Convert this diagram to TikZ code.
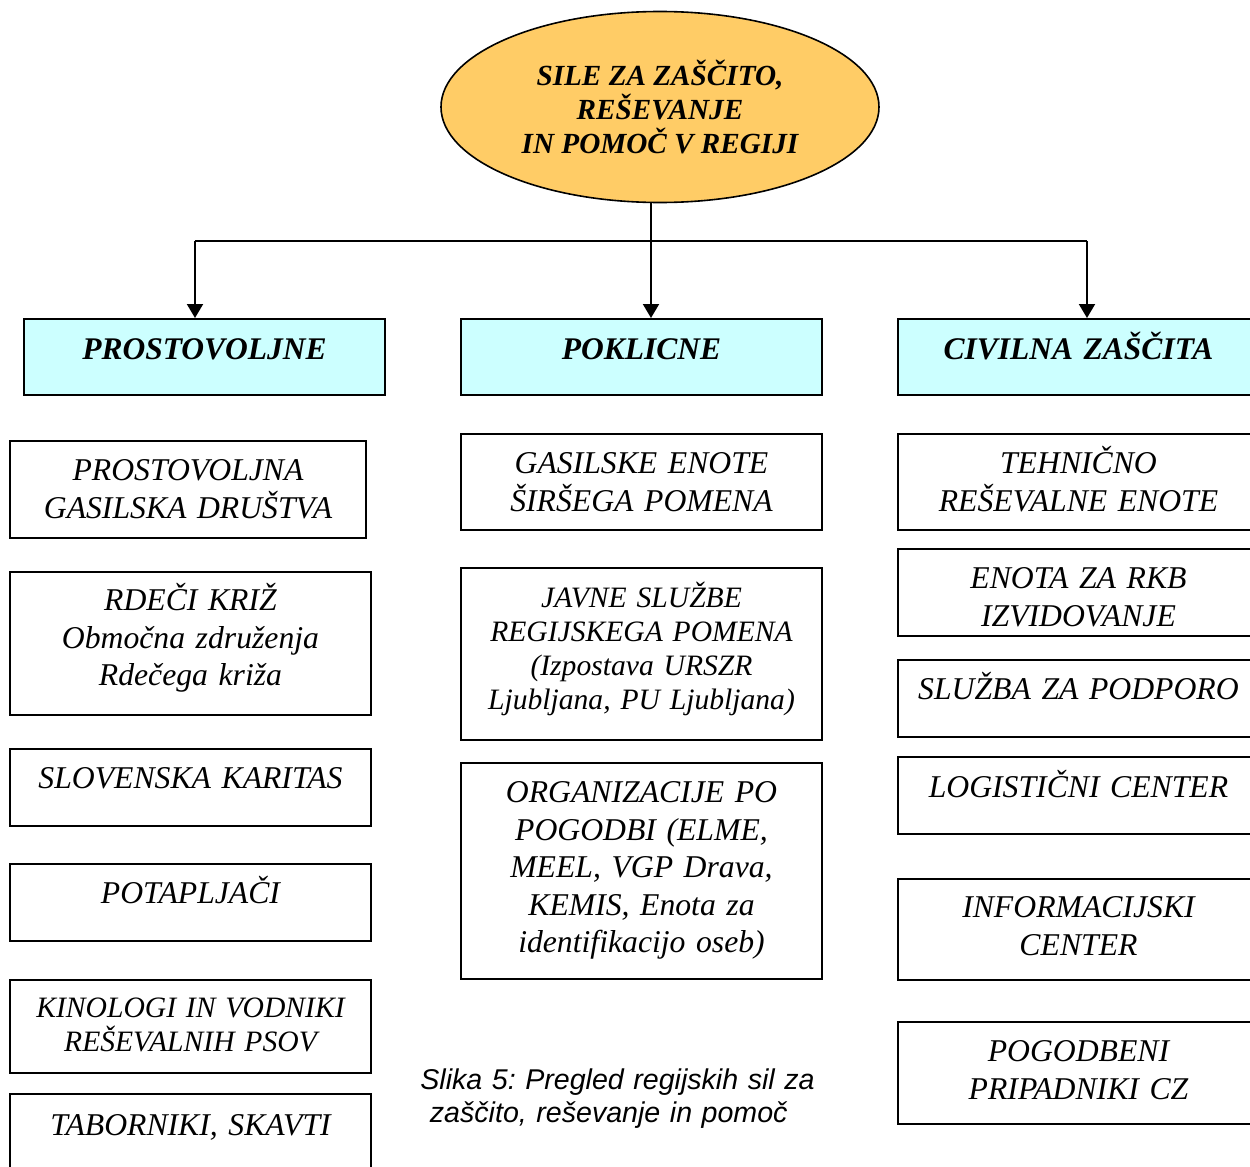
\documentclass[tikz,border=0pt]{standalone}
\usepackage{fontspec}
\setmainfont{Liberation Serif}
\newfontfamily\capfont{Liberation Sans}
\usetikzlibrary{shapes.geometric,fit,arrows.meta}
\frenchspacing

\definecolor{topfill}{RGB}{255,204,102}
\definecolor{hdrfill}{RGB}{204,255,255}

\begin{document}
\begin{tikzpicture}[x=0.5pt,y=-0.5pt,
		box/.style={draw, line width=1pt, inner sep=0pt},
		hdr/.style={box, fill=hdrfill},
		txt/.style={anchor=base, inner sep=0pt, text width=175pt, align=center,
			font=\itshape\fontsize{15.85pt}{18.75pt}\selectfont},
		smalltxt/.style={txt, font=\itshape\fontsize{14.8pt}{17.1pt}\selectfont},
		hdrtxt/.style={txt, font=\bfseries\itshape\fontsize{15.75pt}{18.75pt}\selectfont},
		arr/.style={line width=1pt, -{Triangle[width=8pt,length=7pt]}}]
		\useasboundingbox (0,0) rectangle (1250,1167);

		\node[ellipse, draw, line width=0.8pt, fill=topfill, inner sep=0pt,
			minimum width=219pt, minimum height=95.5pt, align=center,
			font=\bfseries\itshape\fontsize{14.6pt}{17pt}\selectfont]
			(top) at (660,107) {SILE ZA ZAŠČITO,\\REŠEVANJE\\IN POMOČ V REGIJI};

		% headers
		\node[hdr, fit={(24,319) (385,395)}] (vol) {};
		\node[hdr, fit={(461,319) (822,395)}] (prof) {};
		\node[hdr, fit={(898,319) (1259,395)}] (cz) {};
		\node[hdrtxt] (volt) at (204.5,359.5) {PROSTOVOLJNE};
		\node[hdrtxt] (proft) at (641.5,359.5) {POKLICNE};
		\node[hdrtxt] (czt) at (1078.5,359.5) {CIVILNA ZAŠČITA};

		\coordinate (hub) at (651,241);
		\coordinate (lft) at (195,241);
		\coordinate (rgt) at (1087,241);
		\draw[arr] (top.south -| hub) -- (prof.north -| hub);
		\draw[line width=1pt] (lft) -- (rgt);
		\draw[arr] (lft) -- (vol.north -| lft);
		\draw[arr] (rgt) -- (cz.north -| rgt);

		% prostovoljne
		\node[box, fit={(10,441) (366,538)}] (pgd) {};
		\node[box, fit={(10,572) (371,715)}] (rk) {};
		\node[box, fit={(10,749) (371,826)}] (kar) {};
		\node[box, fit={(10,864) (371,941)}] (pot) {};
		\node[box, fit={(10,980) (371,1073)}] (kin) {};
		\node[box, fit={(10,1094) (371,1180)}] (tab) {};
		\node[txt] (pgdt) at (188,480.5) {PROSTOVOLJNA\\GASILSKA DRUŠTVA};
		\node[txt] (rkt) at (190.5,610.5) {RDEČI KRIŽ\\Območna združenja\\Rdečega križa};
		\node[txt] (kart) at (190.5,788.5) {SLOVENSKA KARITAS};
		\node[txt] (pott) at (190.5,903.5) {POTAPLJAČI};
		\node[smalltxt] (kint) at (190.5,1017) {KINOLOGI IN VODNIKI\\REŠEVALNIH PSOV};
		\node[txt] (tabt) at (190.5,1135.5) {TABORNIKI, SKAVTI};

		% poklicne
		\node[box, fit={(461,434) (822,530)}] (gas) {};
		\node[box, fit={(461,568) (822,740)}] (jav) {};
		\node[box, fit={(461,763) (822,979)}] (org) {};
		\node[txt] (gast) at (641.5,473.5) {GASILSKE ENOTE\\ŠIRŠEGA POMENA};
		\node[smalltxt] (javt) at (641.5,607) {JAVNE SLUŽBE\\REGIJSKEGA POMENA\\(Izpostava URSZR\\Ljubljana, PU Ljubljana)};
		\node[txt] (orgt) at (641.5,802.5) {ORGANIZACIJE PO\\POGODBI (ELME,\\MEEL, VGP Drava,\\KEMIS, Enota za\\identifikacijo oseb)};

		% civilna zascita
		\node[box, fit={(898,434) (1259,530)}] (teh) {};
		\node[box, fit={(898,549) (1259,636)}] (rkb) {};
		\node[box, fit={(898,660) (1259,737)}] (pod) {};
		\node[box, fit={(898,757) (1259,834)}] (log) {};
		\node[box, fit={(898,879) (1259,980)}] (inf) {};
		\node[box, fit={(898,1022) (1259,1124)}] (pcz) {};
		\node[txt] (teht) at (1078.5,473.5) {TEHNIČNO\\REŠEVALNE ENOTE};
		\node[txt] (rkbt) at (1078.5,588.5) {ENOTA ZA RKB\\IZVIDOVANJE};
		\node[txt] (podt) at (1078.5,699.5) {SLUŽBA ZA PODPORO};
		\node[txt] (logt) at (1078.5,797.5) {LOGISTIČNI CENTER};
		\node[txt] (inft) at (1078.5,917.5) {INFORMACIJSKI\\CENTER};
		\node[txt] (pczt) at (1078.5,1061.5) {POGODBENI\\PRIPADNIKI CZ};

		\node[anchor=base west, inner sep=0pt, text width=220pt, align=left,
			font=\capfont\itshape\fontsize{14.3pt}{16.5pt}\selectfont]
			(cap) at (420,1089.5) {Slika 5: Pregled regijskih sil za\\\ zaščito, reševanje in pomoč};
\end{tikzpicture}
\end{document}
